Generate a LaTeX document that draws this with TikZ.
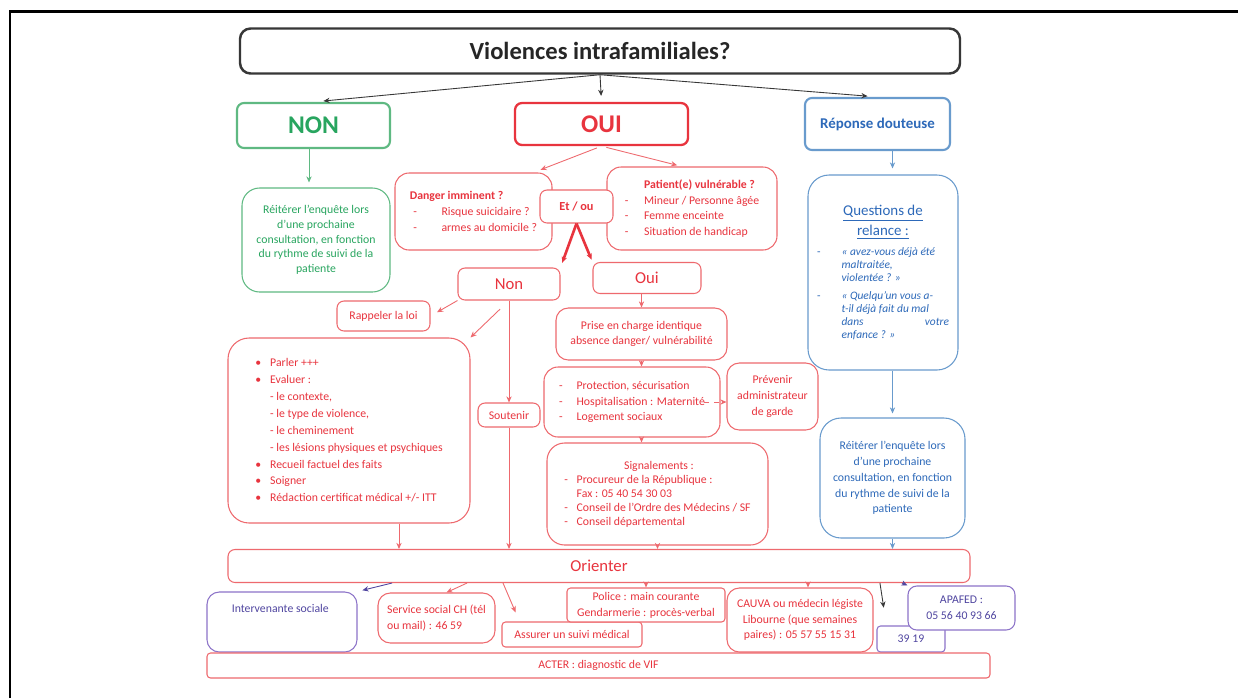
\documentclass[tikz,border=0pt]{standalone}
\usepackage{fontspec}
\setmainfont{Carlito}
\usetikzlibrary{arrows.meta}

\definecolor{txtrouge}{RGB}{232,52,62}
\definecolor{bordrouge}{RGB}{238,105,110}
\definecolor{txtvert}{RGB}{40,165,95}
\definecolor{bordvert}{RGB}{95,185,130}
\definecolor{txtbleu}{RGB}{45,105,185}
\definecolor{bordbleu}{RGB}{105,155,205}
\definecolor{txtviolet}{RGB}{80,70,160}
\definecolor{bordviolet}{RGB}{140,115,200}
\definecolor{grisfonce}{RGB}{55,55,55}

\tikzset{
	boite/.style 2 args={draw, fill=white, rounded corners=4pt, inner sep=0pt, align=center, minimum width=#1*0.02cm, minimum height=#2*0.02cm},
	cadrerouge/.style={draw=bordrouge, text=txtrouge, line width=0.6pt},
	cadrevert/.style={draw=bordvert, text=txtvert, line width=0.6pt},
	cadrebleu/.style={draw=bordbleu, text=txtbleu, line width=0.6pt},
	cadreviolet/.style={draw=bordviolet, text=txtviolet, line width=0.6pt},
	petit/.style={font=\fontsize{6.7}{9}\selectfont},
	fleche/.style={-{Stealth[length=3.5pt,width=3pt]}, line width=0.5pt},
}

\begin{document}
\begin{tikzpicture}[x=0.02cm, y=-0.02cm]
			%%%%% START %%%%%
			
			\fill[white] (0, 0) rectangle (1238, 698);
			\useasboundingbox (0, 0) rectangle (1238, 698);
			\draw[line width=1.7pt] (10, 698) -- (10, 11) -- (1238, 11);
			
			%%%%% haut
			\node[boite={720}{45}, draw=grisfonce, line width=1.4pt, rounded corners=6pt, text=black!85, font=\bfseries\fontsize{14}{16}\selectfont] (titre) at (600, 51) {Violences intrafamiliales?};
			\node[boite={153}{45}, cadrevert, line width=1.2pt, font=\bfseries\fontsize{14.5}{16}\selectfont] (non) at (313.5, 125.5) {NON};
			\node[boite={173}{42}, cadrerouge, draw=txtrouge, line width=1.3pt, font=\bfseries\fontsize{14.5}{16}\selectfont] (oui) at (601.5, 124) {OUI};
			\node[boite={145}{52}, cadrebleu, line width=1.2pt, font=\bfseries\fontsize{8.5}{10}\selectfont] (doute) at (877.5, 124) {Réponse douteuse};
			
			\draw[fleche, grisfonce, shorten >=0.2cm] (titre.south) -- (non.north);
			\draw[fleche, grisfonce, shorten >=0.12cm] (titre.south) -- (oui.north);
			\draw[fleche, grisfonce, shorten >=0.2cm] (titre.south) -- (doute.north);
			
			%%%%% NON
			\node[boite={148}{104}, cadrevert, rounded corners=10pt, font=\fontsize{6.7}{8.4}\selectfont] (reitA) at (316, 240) {Réitérer l'enquête lors\\d'une prochaine\\consultation, en fonction\\du rythme de suivi de la\\patiente};
			\draw[fleche, bordvert, shorten >=0.1cm] (non.south -| 309, 0) -- (reitA.north -| 309, 0);
			
			%%%%% OUI
			\node[boite={157}{77}, cadrerouge, rounded corners=8pt, petit, align=left] (danger) at (473.5, 211.5) {\textbf{Danger imminent ?}\\\hspace*{2pt}\makebox[16pt][l]{-}Risque suicidaire ?\\\hspace*{2pt}\makebox[16pt][l]{-}armes au domicile ?};
			\node[boite={170}{83}, cadrerouge, rounded corners=8pt, petit, align=left] (patient) at (692, 208.5) {\hspace*{11pt}\textbf{Patient(e) vulnérable ?}\\\makebox[11pt][l]{-}Mineur / Personne âgée\\\makebox[11pt][l]{-}Femme enceinte\\\makebox[11pt][l]{-}Situation de handicap};
			\node[boite={73}{33}, cadrerouge, font=\bfseries\fontsize{7}{9}\selectfont] (etou) at (576.5, 206.5) {Et / ou};
			
			\draw[fleche, bordrouge, shorten <=0.1cm, shorten >=0.15cm] (oui.south) -- ([xshift=1.2cm]danger.north);
			\draw[fleche, bordrouge, shorten <=0.1cm, shorten >=0.1cm] (oui.south) -- ([xshift=-0.2cm]patient.north);
			
			\node[boite={102}{32}, cadrerouge, font=\fontsize{9.5}{11}\selectfont] (nonB) at (509, 284) {Non};
			\node[boite={108}{31}, cadrerouge, font=\fontsize{9.5}{11}\selectfont] (ouiB) at (647, 278) {Oui};
			\draw[fleche, txtrouge, line width=1.5pt, shorten >=0.1cm] (etou.south) -- (nonB.north east);
			\draw[fleche, txtrouge, line width=1.5pt, shorten >=0.05cm] (etou.south) -- (ouiB.north west);
			
			%%%%% branche Non
			\node[boite={93}{30}, cadrerouge, petit] (loi) at (383.5, 316) {Rappeler la loi};
			\node[boite={242}{185}, cadrerouge, rounded corners=12pt, font=\fontsize{6.7}{9.6}\selectfont, align=left] (parler) at (349, 430.5) {\makebox[8.5pt][l]{\textbullet}Parler +++\\\makebox[8.5pt][l]{\textbullet}Evaluer :\\\hspace*{8.5pt}- le contexte,\\\hspace*{8.5pt}- le type de violence,\\\hspace*{8.5pt}- le cheminement\\\hspace*{8.5pt}- les lésions physiques et psychiques\\\makebox[8.5pt][l]{\textbullet}Recueil factuel des faits\\\makebox[8.5pt][l]{\textbullet}Soigner\\\makebox[8.5pt][l]{\textbullet}Rédaction certificat médical +/- ITT};
			\node[boite={62}{24}, cadrerouge, petit] (soutenir) at (509, 415) {Soutenir};
			
			\draw[fleche, bordrouge, shorten >=0.15cm] (nonB.south west) -- (loi.east);
			\draw[fleche, bordrouge, shorten <=0.25cm] (nonB.south) -- (parler.north east);
			\draw[fleche, bordrouge] (nonB.south) -- (soutenir.north);
			
			%%%%% branche Oui
			\node[boite={171}{52}, cadrerouge, rounded corners=7pt, petit] (prise) at (641.5, 334) {Prise en charge identique\\absence danger/ vulnérabilité};
			\node[boite={176}{70}, cadrerouge, rounded corners=8pt, petit, align=left] (protect) at (632, 402) {\makebox[10pt][l]{-}Protection, sécurisation\\\makebox[10pt][l]{-}Hospitalisation : Maternité\\\makebox[10pt][l]{-}Logement sociaux};
			\node[boite={91}{67}, cadrerouge, rounded corners=7pt, petit] (prevenir) at (772.5, 396.5) {Prévenir\\administrateur\\de garde};
			\node[boite={221}{102}, cadrerouge, rounded corners=10pt, font=\fontsize{6.7}{8}\selectfont, align=left] (signal) at (657.5, 494) {\hspace*{34pt}Signalements :\\\makebox[7pt][l]{-}Procureur de la République :\\\hspace*{7pt}Fax : 05 40 54 30 03\\\makebox[7pt][l]{-}Conseil de l'Ordre des Médecins / SF\\\makebox[7pt][l]{-}Conseil départemental};
			
			\draw[fleche, bordrouge] (ouiB.south -| prise.north) -- (prise.north);
			\draw[fleche, bordrouge] (prise.south) -- (prise.south |- protect.north);
			\draw[fleche, bordrouge, dashed] ([xshift=-0.34cm]protect.east) -- (prevenir.west |- protect.east);
			\draw[fleche, bordrouge] (prise.south |- protect.south) -- (prise.south |- signal.north);
			
			%%%%% Reponse douteuse
			\node[boite={150}{195}, cadrebleu, rounded corners=12pt] (questions) at (883, 272.5) {\parbox{2.64cm}{\centering\fontsize{8.5}{11.3}\selectfont\underline{Questions de}\\\underline{relance :}\par\vspace{4pt}\raggedright\fontsize{6.5}{7.4}\selectfont\itshape
			\makebox[14pt][l]{\upshape -}« avez-vous déjà été\\
			\hspace*{14pt}maltraitée,\\
			\hspace*{14pt}violentée ? »\par\vspace{3pt}
			\makebox[14pt][l]{\upshape -}« Quelqu'un vous a-\\
			\hspace*{14pt}t-il déjà fait du mal\\
			\hspace*{14pt}dans\hfill votre\\
			\hspace*{14pt}enfance ? »}};
			\node[boite={145}{120}, cadrebleu, rounded corners=12pt, petit] (reitB) at (892.5, 478) {Réitérer l'enquête lors\\d'une prochaine\\consultation, en fonction\\du rythme de suivi de la\\patiente};
			
			\draw[fleche, bordbleu, shorten >=0.12cm] (reitB.north |- doute.south) -- (reitB.north |- questions.north);
			\draw[fleche, bordbleu, shorten >=0.08cm] (reitB.north |- questions.south) -- (reitB.north);
			
			%%%%% Orienter
			\node[boite={742}{33}, cadrerouge, font=\fontsize{9.5}{11}\selectfont] (orienter) at (599, 566) {Orienter};
			
			\draw[fleche, bordrouge] ([xshift=1cm]parler.south) -- ([xshift=1cm]parler.south |- orienter.north);
			\draw[fleche, bordrouge] (soutenir.south) -- (soutenir.south |- orienter.north);
			\draw[fleche, bordrouge] (signal.south) -- (signal.south |- orienter.north);
			\draw[fleche, bordbleu] (reitB.south) -- (reitB.south |- orienter.north);
			
			\node[boite={150}{60}, cadreviolet, rounded corners=7pt, petit] (interv) at (282, 622) {\parbox[c][0.7cm][t]{2.5cm}{\hspace*{7pt}Intervenante sociale}};
			\node[boite={117}{50}, cadrerouge, rounded corners=7pt, petit, align=left] (service) at (436.5, 618) {Service social CH (tél\\ou mail) : 46 59};
			\node[boite={140}{25}, cadrerouge, rounded corners=2pt, petit] (suivi) at (572, 634.5) {Assurer un suivi médical};
			\node[boite={158}{34}, cadrerouge, rounded corners=2pt, petit] (police) at (646, 605) {Police : main courante\\Gendarmerie : procès-verbal};
			\node[boite={146}{64}, cadrerouge, rounded corners=7pt, petit] (cauva) at (800, 620) {CAUVA ou médecin légiste\\Libourne (que semaines\\paires) : 05 57 55 15 31};
			\node[boite={68}{26}, cadreviolet, rounded corners=2pt, petit] (n3919) at (911, 639) {39 19};
			\node[boite={107}{44}, cadreviolet, rounded corners=5pt, petit] (apafed) at (961.5, 608) {APAFED :\\05 56 40 93 66};
			\node[boite={783}{25}, cadrerouge, rounded corners=2pt, petit] (acter) at (598.5, 665.5) {ACTER : diagnostic de VIF};
			
			\draw[fleche, txtviolet, shorten >=0.1cm] ([xshift=-4.14cm]orienter.south) -- (interv.north east);
			\draw[fleche, bordrouge] ([xshift=-2.64cm]orienter.south) -- ([xshift=0.2cm]service.north);
			\draw[fleche, bordrouge, shorten >=0.2cm] ([xshift=-1.92cm]orienter.south) -- ([xshift=0.36cm]suivi.north west);
			\draw[fleche, bordrouge] (orienter.south -| police.north) -- (police.north);
			\draw[fleche, bordrouge] ([xshift=0.16cm]orienter.south -| cauva.north) -- ([xshift=0.16cm]cauva.north);
			\draw[fleche, grisfonce, shorten >=0.36cm] ([xshift=5.62cm]orienter.south) -- ([xshift=0.2cm]n3919.north west);
			\draw[fleche, txtviolet] ([xshift=6.06cm]orienter.south) -- (apafed.north west);
			
			%%%%% END %%%%%
\end{tikzpicture}
\end{document}
